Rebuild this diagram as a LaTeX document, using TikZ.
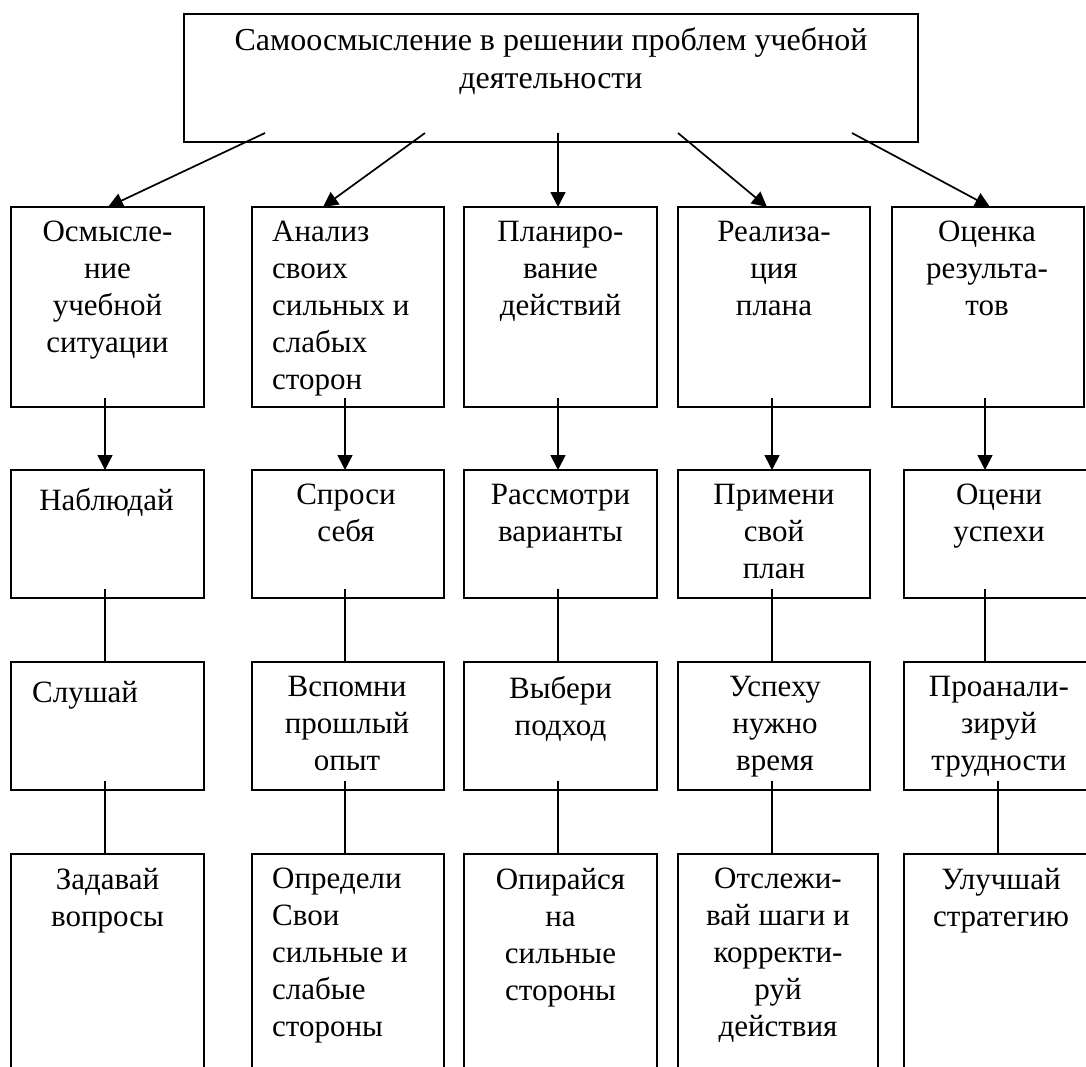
\documentclass[tikz,border=0pt]{standalone}
\usepackage{fontspec}
\setmainfont{Liberation Serif}
\usetikzlibrary{arrows.meta,calc}
\begin{document}
\begin{tikzpicture}[x=1pt,y=-1pt,
  box/.style={draw, line width=1.7pt, anchor=north west, inner sep=0pt, outer sep=0pt},
  lbl/.style={font=\fontsize{31}{37}\selectfont, inner sep=0pt, align=center, anchor=north, execute at begin node=\strut},
  lbll/.style={lbl, align=left, anchor=north west},
  arr/.style={line width=1.7pt, -{Triangle[length=15pt,width=15pt]}},
  link/.style={line width=1.7pt},
]
\clip (0,0) rectangle (1086,1066);

% heading box
\node[box, minimum width=734pt, minimum height=128pt] (top) at (184,14) {};
\node[lbl, font=\fontsize{32}{38.2}\selectfont] (ttop) at (551,27.6)
  {Самоосмысление в решении проблем учебной\\деятельности};

% first row: stages
\node[box, minimum width=193pt, minimum height=200pt] (b11) at (11,207) {};
\node[box, minimum width=192pt, minimum height=200pt] (b12) at (252,207) {};
\node[box, minimum width=193pt, minimum height=200pt] (b13) at (464,207) {};
\node[box, minimum width=192pt, minimum height=200pt] (b14) at (678,207) {};
\node[box, minimum width=192pt, minimum height=200pt] (b15) at (892,207) {};

% second row
\node[box, minimum width=193pt, minimum height=128pt] (b21) at (11,470) {};
\node[box, minimum width=192pt, minimum height=128pt] (b22) at (252,470) {};
\node[box, minimum width=193pt, minimum height=128pt] (b23) at (464,470) {};
\node[box, minimum width=192pt, minimum height=128pt] (b24) at (678,470) {};
\node[box, minimum width=190pt, minimum height=128pt] (b25) at (904,470) {};

% third row
\node[box, minimum width=193pt, minimum height=128pt] (b31) at (11,662) {};
\node[box, minimum width=192pt, minimum height=128pt] (b32) at (252,662) {};
\node[box, minimum width=193pt, minimum height=128pt] (b33) at (464,662) {};
\node[box, minimum width=192pt, minimum height=128pt] (b34) at (678,662) {};
\node[box, minimum width=190pt, minimum height=128pt] (b35) at (904,662) {};

% fourth row (runs past the lower edge)
\node[box, minimum width=193pt, minimum height=260pt] (b41) at (11,854) {};
\node[box, minimum width=192pt, minimum height=260pt] (b42) at (252,854) {};
\node[box, minimum width=193pt, minimum height=260pt] (b43) at (464,854) {};
\node[box, minimum width=200pt, minimum height=260pt] (b44) at (678,854) {};
\node[box, minimum width=190pt, minimum height=260pt] (b45) at (904,854) {};

% texts, first row
\node[lbl] (l11) at ($(b11.north)+(0,14)$) {Осмысле-\\ние\\учебной\\ситуации};
\node[lbll] (l12) at ($(b12.north west)+(20,14)$) {Анализ\\своих\\сильных и\\слабых\\сторон};
\node[lbl] (l13) at ($(b13.north)+(0,14)$) {Планиро-\\вание\\действий};
\node[lbl] (l14) at ($(b14.north)+(0,14)$) {Реализа-\\ция\\плана};
\node[lbl] (l15) at ($(b15.north)+(-1,14)$) {Оценка\\результа-\\тов};

% texts, second row
\node[lbl] (l21) at ($(b21.north)+(-1,14)$) {Наблюдай};
\node[lbl] (l22) at ($(b22.north)+(-2,14)$) {Спроси\\себя};
\node[lbl] (l23) at ($(b23.north)+(0,14)$) {Рассмотри\\варианты};
\node[lbl] (l24) at ($(b24.north)+(0,14)$) {Примени\\свой\\план};
\node[lbl] (l25) at ($(b25.north)+(0,14)$) {Оцени\\успехи};

% texts, third row
\node[lbll] (l31) at ($(b31.north west)+(21,14)$) {Слушай};
\node[lbl] (l32) at ($(b32.north)+(-1,14)$) {Вспомни\\прошлый\\опыт};
\node[lbl] (l33) at ($(b33.north)+(0,14)$) {Выбери\\подход};
\node[lbl] (l34) at ($(b34.north)+(1,14)$) {Успеху\\нужно\\время};
\node[lbl] (l35) at ($(b35.north)+(0,14)$) {Проанали-\\зируй\\трудности};

% texts, fourth row
\node[lbl] (l41) at ($(b41.north)+(0,14)$) {Задавай\\вопросы};
\node[lbll] (l42) at ($(b42.north west)+(20,14)$) {Определи\\Свои\\сильные и\\слабые\\стороны};
\node[lbl] (l43) at ($(b43.north)+(0,14)$) {Опирайся\\на\\сильные\\стороны};
\node[lbl] (l44) at ($(b44.north)+(0,14)$) {Отслежи-\\вай шаги и\\корректи-\\руй\\действия};
\node[lbl] (l45) at ($(b45.north)+(2,14)$) {Улучшай\\стратегию};

% arrows from the heading to the stages
\draw[arr] ($(top.south west)+(81,-9)$)  -- ($(b11.north west)+(97,0)$);
\draw[arr] ($(top.south west)+(241,-9)$) -- ($(b12.north west)+(71,0)$);
\draw[arr] ($(top.south west)+(374,-9)$) -- ($(b13.north west)+(94,0)$);
\draw[arr] ($(top.south west)+(494,-9)$) -- ($(b14.north west)+(89,0)$);
\draw[arr] ($(top.south west)+(668,-9)$) -- ($(b15.north west)+(98,0)$);

% arrows from the stages to the second row
\draw[arr] ($(b11.south west)+(94,-9)$) -- ($(b21.north west)+(94,0)$);
\draw[arr] ($(b12.south west)+(93,-9)$) -- ($(b22.north west)+(93,0)$);
\draw[arr] ($(b13.south west)+(94,-9)$) -- ($(b23.north west)+(94,0)$);
\draw[arr] ($(b14.south west)+(94,-9)$) -- ($(b24.north west)+(94,0)$);
\draw[arr] ($(b15.south west)+(93,-9)$) -- ($(b25.north west)+(81,0)$);

% plain links between the lower rows
\draw[link] ($(b21.south west)+(94,-9)$) -- ($(b31.north west)+(94,0)$);
\draw[link] ($(b22.south west)+(93,-9)$) -- ($(b32.north west)+(93,0)$);
\draw[link] ($(b23.south west)+(94,-9)$) -- ($(b33.north west)+(94,0)$);
\draw[link] ($(b24.south west)+(94,-9)$) -- ($(b34.north west)+(94,0)$);
\draw[link] ($(b25.south west)+(81,-9)$) -- ($(b35.north west)+(81,0)$);

\draw[link] ($(b31.south west)+(94,-9)$) -- ($(b41.north west)+(94,0)$);
\draw[link] ($(b32.south west)+(93,-9)$) -- ($(b42.north west)+(93,0)$);
\draw[link] ($(b33.south west)+(94,-9)$) -- ($(b43.north west)+(94,0)$);
\draw[link] ($(b34.south west)+(94,-9)$) -- ($(b44.north west)+(94,0)$);
\draw[link] ($(b35.south west)+(94,-9)$) -- ($(b45.north west)+(94,0)$);
\end{tikzpicture}
\end{document}
